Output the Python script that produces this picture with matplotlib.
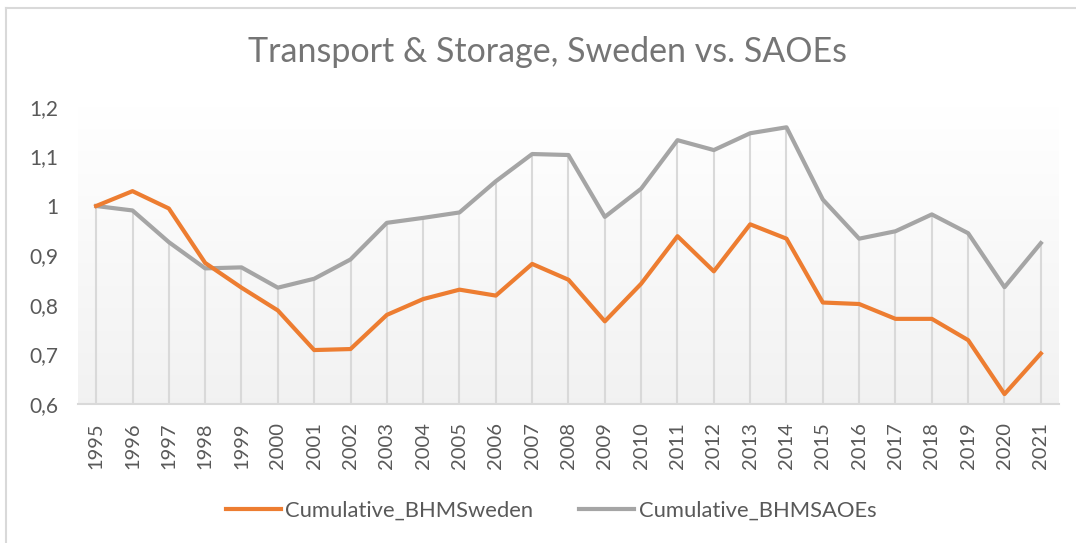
import matplotlib

matplotlib.use("Agg")
import matplotlib.pyplot as plt
import numpy as np
from matplotlib.lines import Line2D

plt.rcParams["font.family"] = ["Lato", "DejaVu Sans"]

years = [str(y) for y in range(1995, 2022)]
sweden = [1.000, 1.030, 0.995, 0.885, 0.835, 0.789, 0.709, 0.711, 0.780, 0.812,
          0.831, 0.819, 0.883, 0.851, 0.767, 0.843, 0.939, 0.868, 0.963, 0.934,
          0.805, 0.802, 0.772, 0.772, 0.729, 0.620, 0.702]
saoes = [1.000, 0.991, 0.927, 0.874, 0.876, 0.835, 0.853, 0.892, 0.966, 0.976,
         0.987, 1.050, 1.105, 1.103, 0.978, 1.035, 1.133, 1.113, 1.147, 1.159,
         1.013, 0.934, 0.949, 0.983, 0.945, 0.836, 0.925]
yticks = [0.6, 0.7, 0.8, 0.9, 1.0, 1.1, 1.2]
ytick_labels = ["0,6", "0,7", "0,8", "0,9", "1", "1,1", "1,2"]

ORANGE, GRAY = "#ED7D31", "#A5A5A5"
TXT = "#595959"

fig = plt.figure(figsize=(10.76, 5.43), dpi=100)
ax = fig.add_axes([78 / 1076, 1 - 404 / 543, (1059 - 78) / 1076, (404 - 107) / 543])

x = np.arange(len(years))
ax.set_xlim(-0.5, len(years) - 0.5)
ax.set_ylim(0.6, 1.2)

# plot area gradient (white at top -> light gray at bottom)
grad = np.linspace(1.0, 0.948, 256).reshape(-1, 1)
ax.imshow(np.dstack([grad, grad, grad]), extent=[-0.5, len(years) - 0.5, 0.6, 1.2],
          aspect="auto", origin="upper", zorder=0)

# drop lines from the SAOEs series
ax.vlines(x, 0.6, saoes, color="#d9d9d9", lw=1.5, zorder=1)

ax.plot(x, sweden, color=ORANGE, lw=3, solid_joinstyle="round", zorder=3)
ax.plot(x, saoes, color=GRAY, lw=3, solid_joinstyle="round", zorder=2)

for s in ["top", "right", "left"]:
    ax.spines[s].set_visible(False)
ax.spines["bottom"].set_color("#d9d9d9")
ax.spines["bottom"].set_linewidth(1.5)

ax.set_xticks(x)
ax.set_xticklabels(years, rotation=90, fontsize=14.5, color=TXT)
ax.set_yticks(yticks)
ax.set_yticklabels(ytick_labels, fontsize=15, color=TXT)
ax.tick_params(axis="x", length=0, pad=13)
ax.tick_params(axis="y", length=0, pad=14)

fig.text(547 / 1076, 1 - 52 / 543, "Transport & Storage, Sweden vs. SAOEs",
         ha="center", va="center", fontsize=24.5, color="#757575")

handles = [Line2D([], [], color=ORANGE, lw=3), Line2D([], [], color=GRAY, lw=3)]
fig.legend(handles, ["Cumulative_BHMSweden", "Cumulative_BHMSAOEs"],
           loc="center", bbox_to_anchor=(551 / 1076, 1 - 511 / 543), ncol=2,
           frameon=False, fontsize=15.8, labelcolor=TXT, handlelength=2.5,
           handletextpad=0.2, columnspacing=2.1)

# chart border (top and left edges visible)
fig.add_artist(Line2D([6 / 1076, 6 / 1076], [0, 1 - 8 / 543], color="#d9d9d9", lw=1.5,
                      transform=fig.transFigure))
fig.add_artist(Line2D([6 / 1076, 1], [1 - 8 / 543, 1 - 8 / 543], color="#d9d9d9", lw=1.5,
                      transform=fig.transFigure))

fig.savefig("out.png", dpi=100)
